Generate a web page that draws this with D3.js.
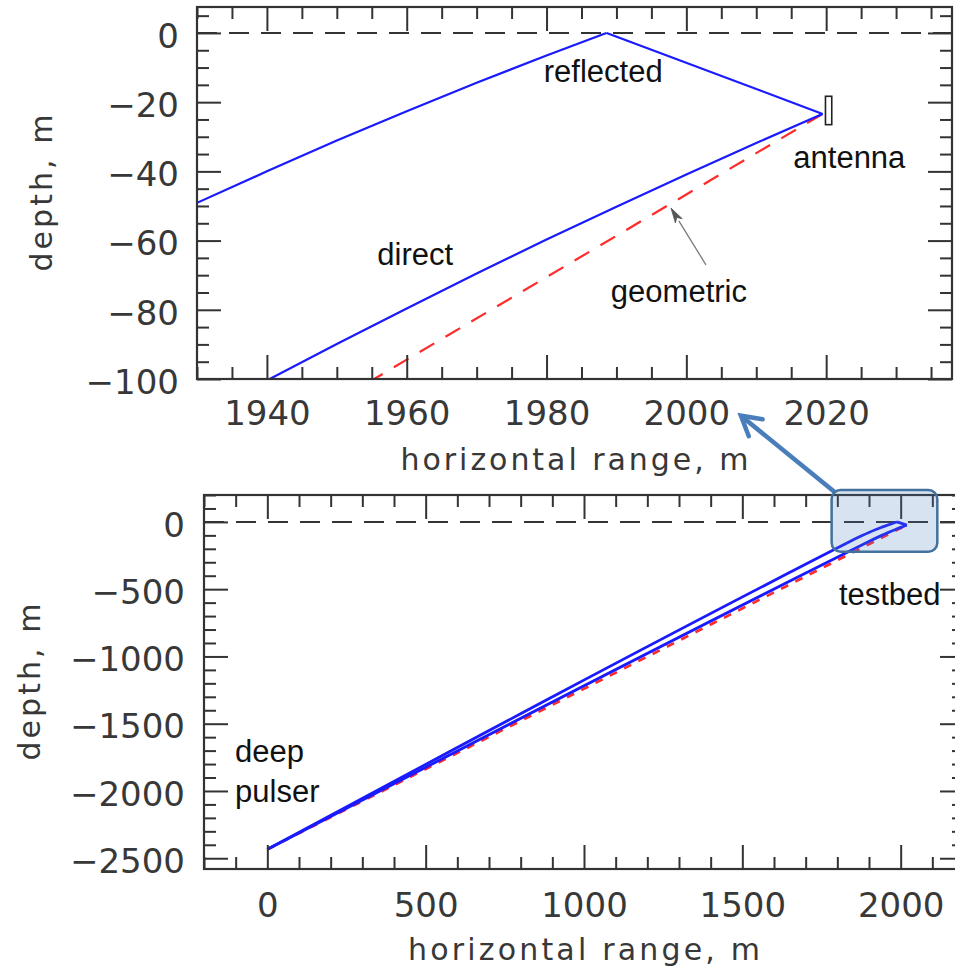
<!DOCTYPE html>
<html>
<head>
<meta charset="utf-8">
<script src="https://cdn.jsdelivr.net/npm/d3@7"></script>
<style>
  html, body { margin: 0; padding: 0; background: #fff; overflow: hidden; }
  svg { display: block; }
  .tick text { font-family: "DejaVu Sans", sans-serif; font-size: 34px; fill: #383838; }
  .tick line { stroke: #333; stroke-width: 2; }
  .lbl { font-family: "Liberation Sans", Arial, sans-serif; font-size: 31px; fill: #111; }
  .ttl { font-family: "DejaVu Sans", sans-serif; font-size: 30px; fill: #383838; }
</style>
</head>
<body>
<svg id="chart" width="955" height="971"></svg>
<script>
// Ray paths from the deep pulser to the testbed antenna: [horizontal range (m), depth (m)]
// The reflected ray rises to the surface and comes back down to the antenna.
const reflectedUp = [
  [0, -2434], [1836.7, -150], [1860, -122.0], [1880, -99.4], [1900, -78.2],
  [1920, -58.5], [1930, -49.1], [1940, -40.0], [1950, -31.1], [1960, -22.6],
  [1970, -14.4], [1980, -6.5], [1988.6, 0]
];
const reflectedDown = [[1988.6, 0], [2019.5, -23.4]];
const directRay = [
  [0, -2434], [1896.4, -150], [1920, -122.4], [1940.4, -100], [1950, -89.9],
  [1960, -79.6], [1970, -69.5], [1980, -59.7], [1990, -50.2], [2000, -40.9],
  [2010, -31.8], [2019.5, -23.4]
];
const geometricRay = [[0, -2434], [2019.5, -23.4]];

// Antenna outline: range extent and depth extent
const antennaRange = [2019.9, 2020.8];
const antennaDepth = [-18.3, -26.5];

// Axis ticks
const zoomXTicks = [1940, 1960, 1980, 2000, 2020];
const zoomYTicks = [0, -20, -40, -60, -80, -100];
const fullXTicks = [0, 500, 1000, 1500, 2000];
const fullYTicks = [0, -500, -1000, -1500, -2000, -2500];

// Text labels: [text, range, depth]
const zoomLabels = [
  ["reflected", 1979.6, -14.2],
  ["antenna", 2015.3, -38.9],
  ["direct", 1955.8, -67.0],
  ["geometric", 1989.2, -77.7]
];
const fullLabels = [
  ["deep", -102, -1785],
  ["pulser", -102, -2082],
  ["testbed", 1805, -618]
];

const svg = d3.select("#chart");
const fmt = d3.format("d");

function drawPanel(cfg) {
  const x = d3.scaleLinear().domain(cfg.xDomain).range([cfg.left, cfg.right]);
  const y = d3.scaleLinear().domain(cfg.yDomain).range([cfg.bottom, cfg.top]);
  const g = svg.append("g");

  g.append("clipPath").attr("id", cfg.id + "-clip")
    .append("rect")
    .attr("x", cfg.left).attr("y", cfg.top)
    .attr("width", cfg.right - cfg.left).attr("height", cfg.bottom - cfg.top);

  const plot = g.append("g").attr("clip-path", `url(#${cfg.id}-clip)`);

  // ice surface
  plot.append("line")
    .attr("x1", cfg.left).attr("x2", cfg.right)
    .attr("y1", y(0)).attr("y2", y(0))
    .attr("stroke", "#333").attr("stroke-width", 2)
    .attr("stroke-dasharray", "20,12");

  const line = d3.line().x(d => x(d[0])).y(d => y(d[1])).curve(d3.curveMonotoneX);

  plot.append("path").datum(geometricRay)
    .attr("d", line).attr("fill", "none")
    .attr("stroke", "#ff2a2a").attr("stroke-width", cfg.redWidth)
    .attr("stroke-dasharray", cfg.redDash);

  [reflectedUp, reflectedDown, directRay].forEach(ray => {
    plot.append("path").datum(ray)
      .attr("d", line).attr("fill", "none")
      .attr("stroke", "#1a1aff").attr("stroke-width", cfg.blueWidth)
      .attr("stroke-linejoin", "round");
  });

  // axes: major + minor ticks on all four sides, pointing inward
  const addAxis = (axisFn, pos, values, size, pad, labelled, dy) => {
    const horiz = axisFn === d3.axisBottom || axisFn === d3.axisTop;
    const a = axisFn(horiz ? x : y)
      .tickValues(values).tickSize(-size).tickPadding(pad)
      .tickFormat(labelled ? fmt : "");
    const ag = g.append("g")
      .attr("transform", horiz ? `translate(0,${pos})` : `translate(${pos},0)`)
      .call(a);
    ag.select(".domain").remove();
    ag.attr("font-size", null).attr("font-family", null);
    if (dy) ag.selectAll(".tick text").attr("dy", dy);
  };
  const xMinor = d3.range(cfg.xDomain[0], cfg.xDomain[1] + 1e-9, cfg.xMinorStep)
    .filter(v => !cfg.xTicks.includes(v));
  const yMinor = d3.range(Math.ceil(cfg.yDomain[0] / cfg.yMinorStep) * cfg.yMinorStep,
    cfg.yDomain[1] + 1e-9, cfg.yMinorStep)
    .filter(v => !cfg.yTicks.includes(v));

  addAxis(d3.axisBottom, cfg.bottom, cfg.xTicks, 24, cfg.xPad, true);
  addAxis(d3.axisBottom, cfg.bottom, xMinor, 12, 0, false);
  addAxis(d3.axisTop, cfg.top, cfg.xTicks, 24, 0, false);
  addAxis(d3.axisTop, cfg.top, xMinor, 12, 0, false);
  addAxis(d3.axisLeft, cfg.left, cfg.yTicks, 24, cfg.yPad, true, "0.42em");
  addAxis(d3.axisLeft, cfg.left, yMinor, 12, 0, false);
  addAxis(d3.axisRight, cfg.right, cfg.yTicks, 24, 0, false);
  addAxis(d3.axisRight, cfg.right, yMinor, 12, 0, false);

  // frame
  g.append("rect")
    .attr("x", cfg.left).attr("y", cfg.top)
    .attr("width", cfg.right - cfg.left).attr("height", cfg.bottom - cfg.top)
    .attr("fill", "none").attr("stroke", "#333").attr("stroke-width", 2.2);

  // axis titles
  g.append("text").attr("class", "ttl")
    .attr("x", (cfg.left + cfg.right) / 2).attr("y", cfg.xTitleY)
    .attr("text-anchor", "middle")
    .attr("textLength", cfg.xTitleLen).attr("lengthAdjust", "spacing")
    .text("horizontal range, m");
  g.append("text").attr("class", "ttl")
    .attr("transform", `translate(${cfg.yTitleX},${(cfg.top + cfg.bottom) / 2}) rotate(-90)`)
    .attr("text-anchor", "middle")
    .attr("textLength", 157).attr("lengthAdjust", "spacing")
    .text("depth, m");

  // labels
  g.selectAll("text.lbl").data(cfg.labels).join("text")
    .attr("class", "lbl")
    .attr("x", d => x(d[1])).attr("y", d => y(d[2]))
    .text(d => d[0]);

  return { x, y, g };
}

const zoom = drawPanel({
  id: "zoom", left: 197, right: 952, top: 7, bottom: 379,
  xDomain: [1930, 2038], yDomain: [-100, 7.5],
  xTicks: zoomXTicks, yTicks: zoomYTicks, xMinorStep: 5, yMinorStep: 5,
  xPad: 22, yPad: 18, xTitleY: 470, xTitleLen: 348, yTitleX: 52,
  blueWidth: 2.2, redWidth: 2.2, redDash: "17,13", labels: zoomLabels
});

const full = drawPanel({
  id: "full", left: 204, right: 964, top: 495, bottom: 869,
  xDomain: [-200, 2200], yDomain: [-2580, 200],
  xTicks: fullXTicks, yTicks: fullYTicks, xMinorStep: 100, yMinorStep: 100,
  xPad: 24, yPad: 19, xTitleY: 960, xTitleLen: 352, yTitleX: 40,
  blueWidth: 2.8, redWidth: 2.6, redDash: "8,8", labels: fullLabels
});

// antenna marker
zoom.g.append("rect")
  .attr("x", zoom.x(antennaRange[0])).attr("y", zoom.y(antennaDepth[0]))
  .attr("width", zoom.x(antennaRange[1]) - zoom.x(antennaRange[0]))
  .attr("height", zoom.y(antennaDepth[1]) - zoom.y(antennaDepth[0]))
  .attr("fill", "#fff").attr("stroke", "#222").attr("stroke-width", 1.6);

// pointer to the geometric path
{
  const tip = [zoom.x(1997.8), zoom.y(-50.6)];
  const tail = [zoom.x(2002.8), zoom.y(-67.0)];
  const ang = Math.atan2(tail[1] - tip[1], tail[0] - tip[0]);
  const L = 15, Wd = 4;
  const bx = tip[0] + L * Math.cos(ang), by = tip[1] + L * Math.sin(ang);
  zoom.g.append("line")
    .attr("x1", bx).attr("y1", by).attr("x2", tail[0]).attr("y2", tail[1])
    .attr("stroke", "#7a7a7a").attr("stroke-width", 1.3);
  zoom.g.append("path")
    .attr("d", `M${tip[0]},${tip[1]} L${bx - Wd * Math.sin(ang)},${by + Wd * Math.cos(ang)} L${tip[0] + 11 * Math.cos(ang)},${tip[1] + 11 * Math.sin(ang)} L${bx + Wd * Math.sin(ang)},${by - Wd * Math.cos(ang)} Z`)
    .attr("fill", "#555").attr("stroke", "#555").attr("stroke-width", 0.8);
}

// highlight of the testbed region and the callout to the zoomed panel
{
  const bx0 = full.x(1782), bx1 = full.x(2115.7);
  const by0 = full.y(237), by1 = full.y(-221.5);
  const tip = [zoom.x(2007.8), zoom.y(-110.6)];
  const tail = [bx0 + 3, by0 + 2];
  const ang = Math.atan2(tail[1] - tip[1], tail[0] - tip[0]);
  const arm = 22, spread = 0.52;
  svg.append("line")
    .attr("x1", tip[0] + 2 * Math.cos(ang)).attr("y1", tip[1] + 2 * Math.sin(ang))
    .attr("x2", tail[0]).attr("y2", tail[1])
    .attr("stroke", "#4a7ebb").attr("stroke-width", 4.5);
  svg.append("path")
    .attr("d", `M${tip[0] + arm * Math.cos(ang - spread)},${tip[1] + arm * Math.sin(ang - spread)} L${tip[0]},${tip[1]} L${tip[0] + arm * Math.cos(ang + spread)},${tip[1] + arm * Math.sin(ang + spread)}`)
    .attr("fill", "none").attr("stroke", "#4a7ebb").attr("stroke-width", 4.5)
    .attr("stroke-linejoin", "miter").attr("stroke-linecap", "round");
  svg.append("rect")
    .attr("x", bx0).attr("y", by0)
    .attr("width", bx1 - bx0).attr("height", by1 - by0)
    .attr("rx", 9).attr("ry", 9)
    .attr("fill", "#4f81bd").attr("fill-opacity", 0.22)
    .attr("stroke", "#41719c").attr("stroke-width", 2.5);
}
</script>
</body>
</html>
